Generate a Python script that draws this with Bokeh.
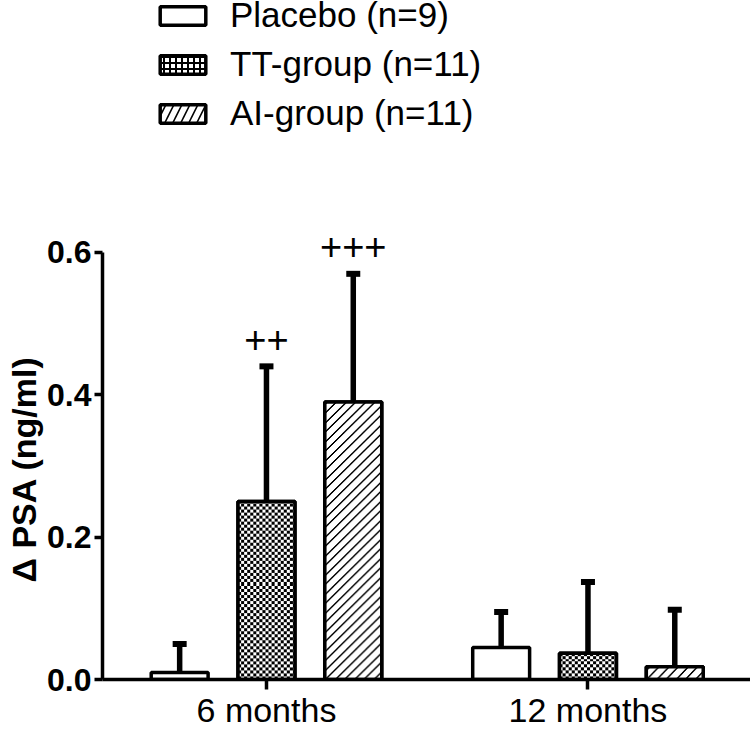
import numpy as np
from bokeh.core.properties import value
from bokeh.embed import file_html
from bokeh.models import (ColumnDataSource, FixedTicker, Legend, LegendItem,
                          PrintfTickFormatter, Range1d, TeeHead, Title, Whisker)
from bokeh.plotting import figure
from bokeh.resources import INLINE

# ---------------- data ----------------
periods = ["6 months", "12 months"]
groups = ["Placebo (n=9)", "TT-group (n=11)", "AI-group (n=11)"]
placebo_mean = [0.01, 0.045]
placebo_sem = [0.04, 0.05]
tt_mean = [0.25, 0.037]
tt_sem = [0.19, 0.10]
ai_mean = [0.39, 0.018]
ai_sem = [0.18, 0.08]
placebo_sig = ["", ""]
tt_sig = ["++", ""]
ai_sig = ["+++", ""]
yticks = [0.0, 0.2, 0.4, 0.6]
y_title = "Δ PSA (ng/ml)"

FONT = "Liberation Sans"

# ---------------- layout ----------------
W, H = 750, 734
LEFT, BOTTOM = 102, 55
PX_X = 321.5          # screen px per x unit
PX_Y = 711.7          # screen px per y unit
x0 = 0.49
frame_w = W - LEFT
frame_h = H - BOTTOM

p = figure(width=W, height=H, output_backend="svg", toolbar_location=None,
           x_range=Range1d(x0, x0 + frame_w / PX_X), y_range=Range1d(0, frame_h / PX_Y),
           min_border_left=LEFT, min_border_right=0, min_border_top=0, min_border_bottom=BOTTOM)
p.outline_line_color = None
p.xgrid.visible = False
p.ygrid.visible = False
p.background_fill_color = "white"
p.border_fill_color = "white"

base = np.arange(1, len(periods) + 1, dtype=float)
offsets = [-0.27, 0.0, 0.27]
bar_w = 0.177

BLACK = np.uint32(0xFF000000)
WHITE = np.uint32(0xFFFFFFFF)


def checker_img(w_px, h_px, cell=3):
    nx = max(1, int(round(w_px / cell)))
    ny = max(1, int(round(h_px / cell)))
    jj, ii = np.mgrid[0:ny, 0:nx]
    return np.where((ii + jj) % 2 == 0, BLACK, WHITE).astype(np.uint32)


def diag_img(w_px, h_px, period=9.5, thick=2.0):
    nx = max(1, int(round(w_px)))
    ny = max(1, int(round(h_px)))
    jj, ii = np.mgrid[0:ny, 0:nx]
    return np.where(((ii - jj) % period) < thick, BLACK, WHITE).astype(np.uint32)


series = [
    (placebo_mean, placebo_sem, placebo_sig, dict(hatch_pattern=None), None),
    (tt_mean, tt_sem, tt_sig, dict(hatch_pattern="+", hatch_scale=6, hatch_weight=2,
                                   hatch_color="black"), checker_img),
    (ai_mean, ai_sem, ai_sig, dict(hatch_pattern="/", hatch_scale=16, hatch_weight=1.6,
                                   hatch_color="black"), diag_img),
]

items = []
for (mean, sem, sig, hatch, texf), off, name in zip(series, offsets, groups):
    mean = np.array(mean)
    sem = np.array(sem)
    xs = base + off
    src = ColumnDataSource(dict(x=xs, top=mean, lower=mean, upper=mean + sem, sig=sig))
    w = Whisker(base="x", lower="lower", upper="upper", source=src, dimension="height",
                line_width=5.5, line_color="black",
                upper_head=TeeHead(size=14, line_width=6, line_color="black"), lower_head=None)
    p.add_layout(w)
    r = p.vbar(x="x", top="top", bottom=0, width=bar_w, source=src, fill_color="white",
               line_color="black", line_width=3.5, **hatch)
    if texf is not None:
        imgs = [texf(bar_w * PX_X, t * PX_Y) for t in mean]
        p.image_rgba(image=imgs, x=list(xs - bar_w / 2), y=[0.0] * len(xs),
                     dw=[bar_w] * len(xs), dh=list(mean))
        p.vbar(x="x", top="top", bottom=0, width=bar_w, source=src, fill_color=None,
               line_color="black", line_width=3.5)
    p.text(x="x", y="upper", text="sig", source=src, text_align="center", text_baseline="middle",
           y_offset=-27, text_font=value(FONT), text_font_size="38px", text_color="black")
    items.append(LegendItem(label=name, renderers=[r]))

legend = Legend(items=items, location=(52, 546), glyph_width=57, glyph_height=23,
                label_text_font=FONT, label_text_font_size="35px", label_text_color="black",
                label_standoff=19, spacing=9, padding=0, margin=0, border_line_color=None,
                background_fill_alpha=0)
p.add_layout(legend)

# ---------------- axes ----------------
yax = p.yaxis[0]
yax.ticker = FixedTicker(ticks=yticks, minor_ticks=[])
yax.formatter = PrintfTickFormatter(format="%.1f")
yax.bounds = (yticks[0], yticks[-1])
yax.axis_line_width = 3.5
yax.major_tick_line_width = 3.5
yax.major_tick_out = 8
yax.major_tick_in = 0
yax.minor_tick_out = 0
yax.minor_tick_in = 0
yax.major_label_standoff = 3
yax.major_label_text_font = FONT
yax.major_label_text_font_style = "bold"
yax.major_label_text_font_size = "32px"
yax.major_label_text_color = "black"

xax = p.xaxis[0]
xax.ticker = FixedTicker(ticks=list(base), minor_ticks=[])
xax.major_label_overrides = {int(b): lab for b, lab in zip(base, periods)}
xax.axis_line_width = 3.5
xax.major_tick_line_width = 3.5
xax.major_tick_out = 10
xax.major_tick_in = 0
xax.minor_tick_out = 0
xax.minor_tick_in = 0
xax.major_label_standoff = 1
xax.major_label_text_line_height = 1.0
xax.major_label_text_font = FONT
xax.major_label_text_font_size = "34px"
xax.major_label_text_color = "black"

ttl = Title(text=y_title, align="left", offset=97, standoff=3,
            text_font=FONT, text_font_style="bold", text_font_size="34px", text_color="black")
p.add_layout(ttl, "left")

open("out.html", "w").write(file_html(p, INLINE))
